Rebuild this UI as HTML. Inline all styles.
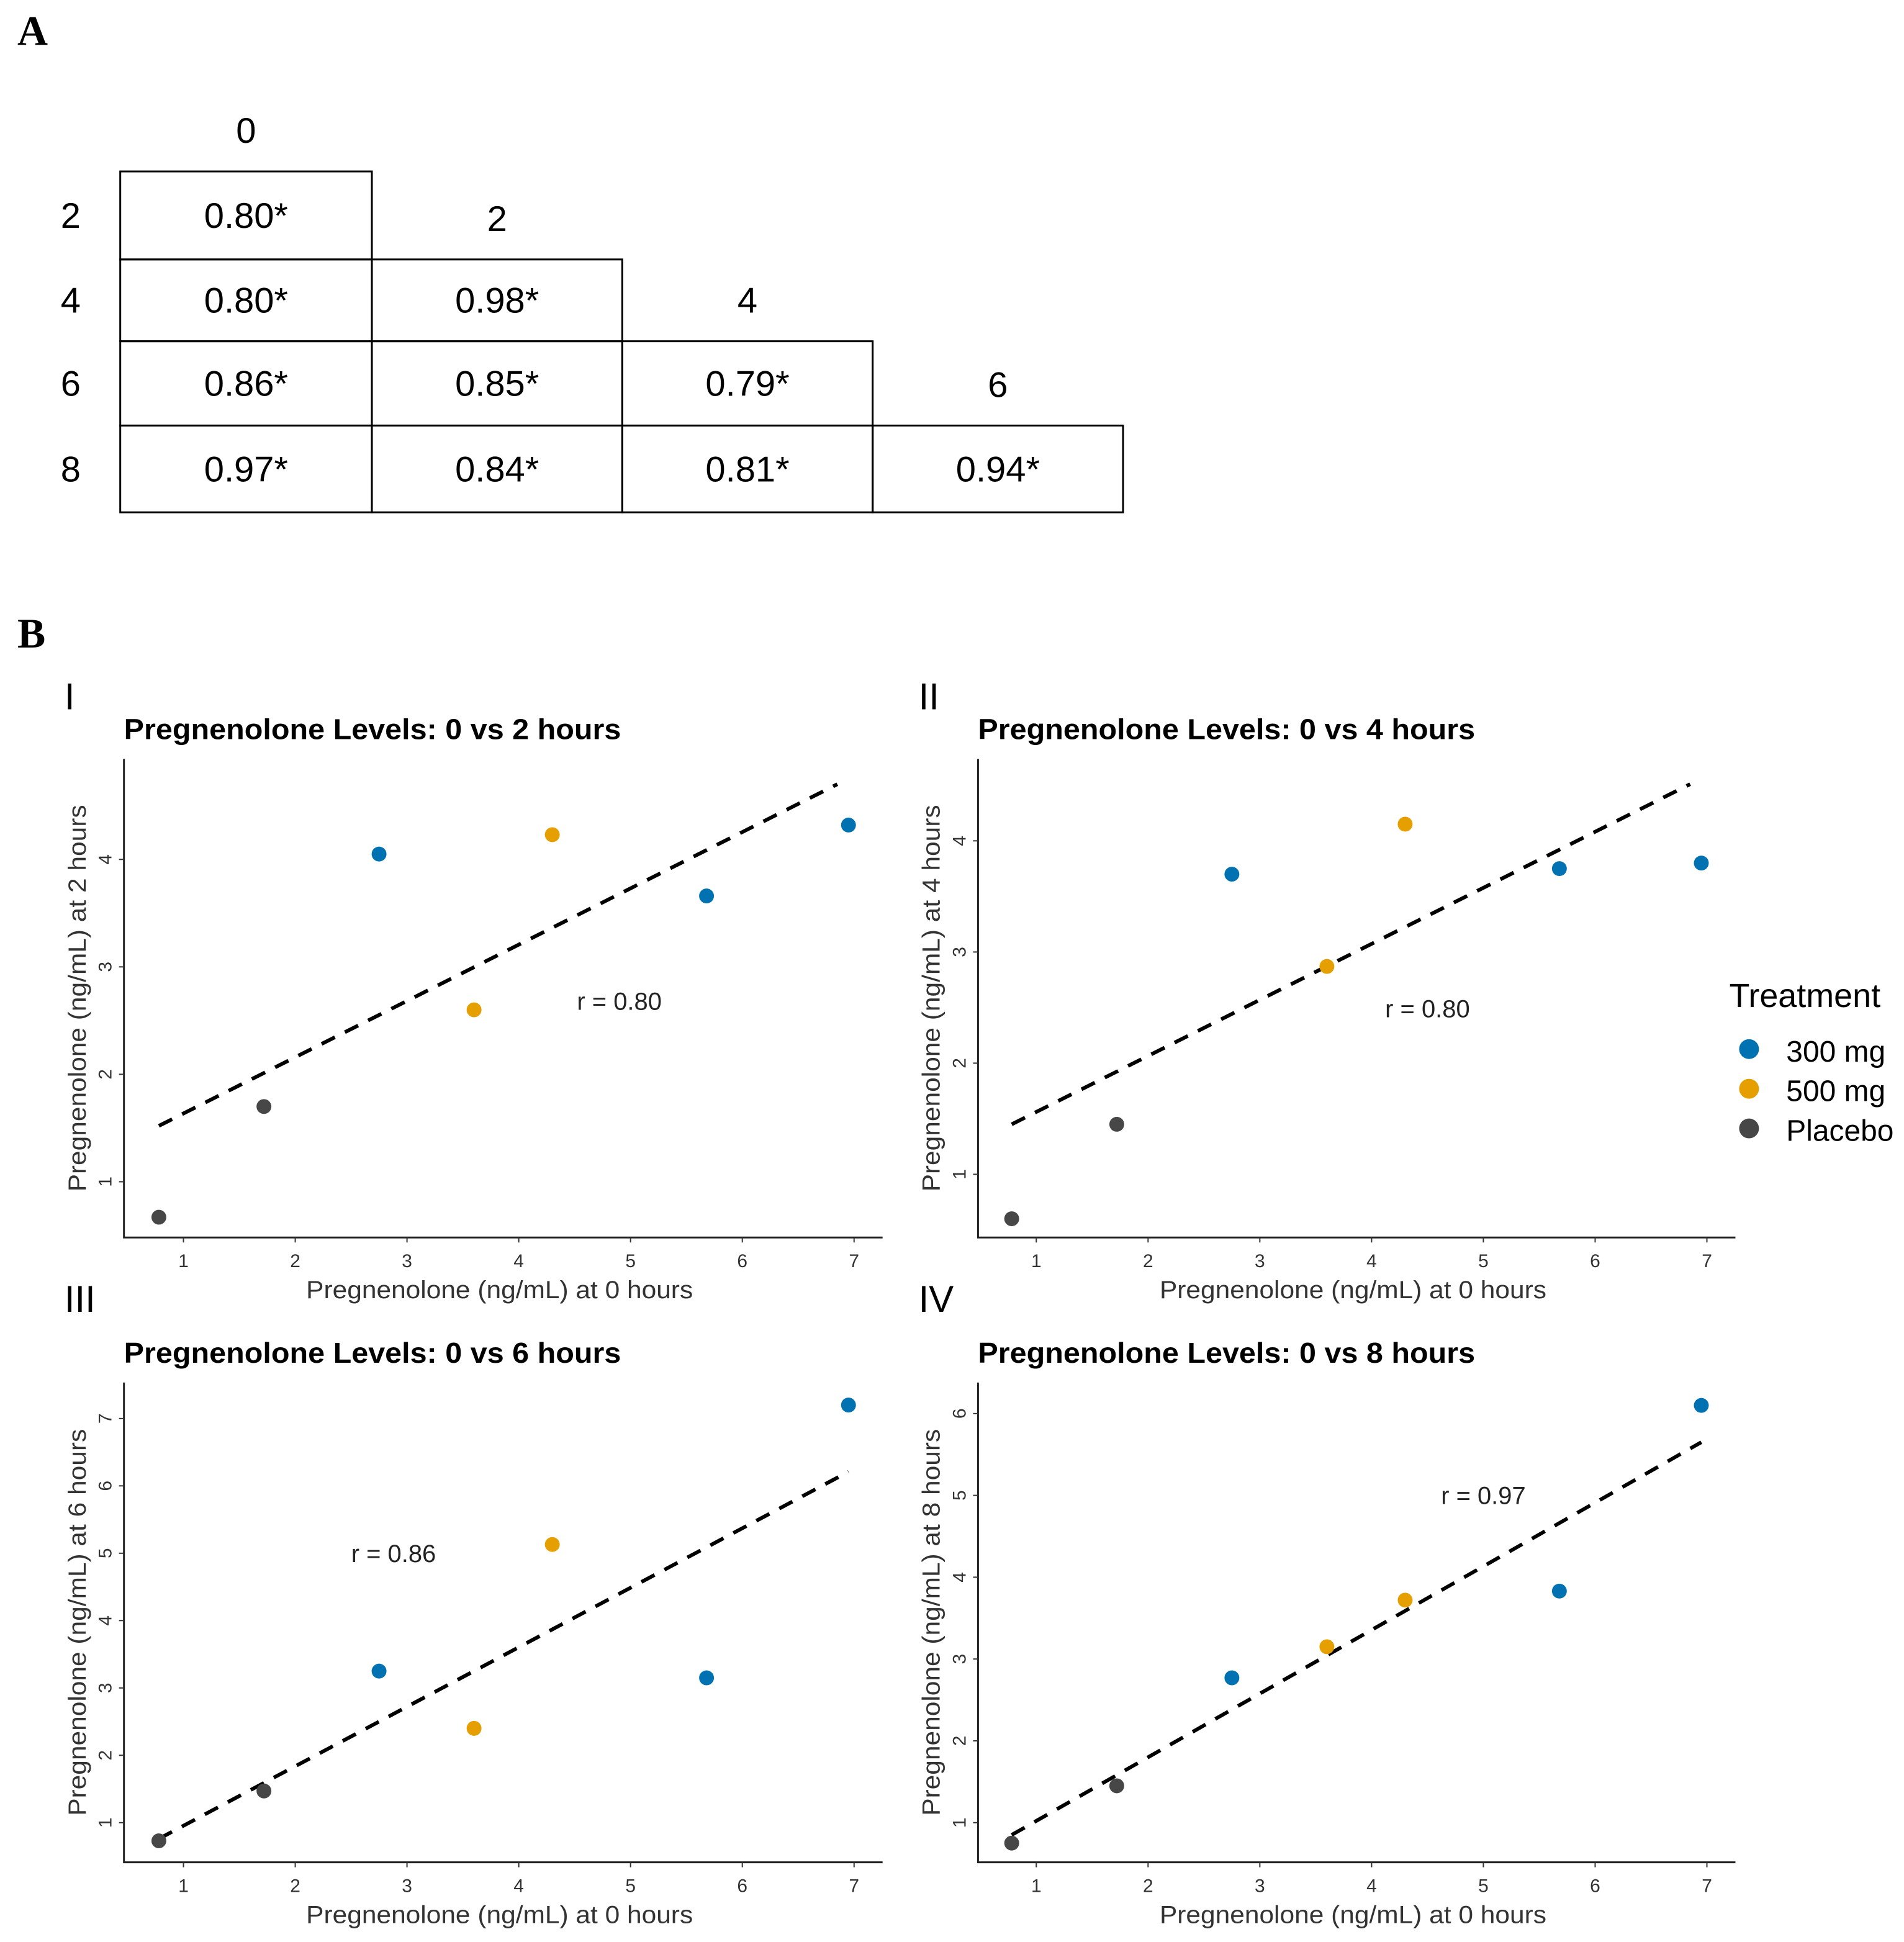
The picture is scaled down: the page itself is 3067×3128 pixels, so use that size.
<!DOCTYPE html>
<html><head><meta charset="utf-8"><style>
html,body{margin:0;padding:0;background:#fff;}
svg{display:block;}
text{font-family:"Liberation Sans",sans-serif;}
</style></head><body>
<svg id="fig" width="3067" height="3128" viewBox="0 0 1536 1566" xmlns="http://www.w3.org/2000/svg">
<rect width="1536" height="1566" fill="#fff"/>
<text x="14" y="36" font-weight="bold" font-size="34" style="font-family:'Liberation Serif',serif">A</text>
<text x="14" y="522" font-weight="bold" font-size="34" style="font-family:'Liberation Serif',serif">B</text>
<g id="table"></g>
<g id="plots"></g>
<g>
<text x="1395" y="812" font-size="27">Treatment</text>
<circle cx="1411" cy="846" r="8" fill="#0072B2"/>
<text x="1441" y="856" font-size="24">300 mg</text>
<circle cx="1411" cy="878" r="8" fill="#E69F00"/>
<text x="1441" y="888" font-size="24">500 mg</text>
<circle cx="1411" cy="910" r="8" fill="#474747"/>
<text x="1441" y="920" font-size="24">Placebo</text>
</g>
</svg>
<script>
const NS="http://www.w3.org/2000/svg";
// ---- table data ----
const tableHours=[0,2,4,6];
const rowHours=[2,4,6,8];
const corrValues=[["0.80*"],["0.80*","0.98*"],["0.86*","0.85*","0.79*"],["0.97*","0.84*","0.81*","0.94*"]];
// ---- scatter data ----
const xBaseline=[0.78,1.72,2.75,3.6,4.3,5.68,6.95];
const groups=["Placebo","Placebo","300 mg","500 mg","500 mg","300 mg","300 mg"];
const yAt2=[0.67,1.7,4.05,2.6,4.23,3.66,4.32];
const yAt4=[0.6,1.45,3.7,2.87,4.15,3.75,3.8];
const yAt6=[0.73,1.47,3.25,2.4,5.13,3.15,7.2];
const yAt8=[0.75,1.45,2.77,3.15,3.72,3.83,6.1];
const fitLines=[[0.78,1.52,6.85,4.7],[0.78,1.45,6.85,4.51],[0.78,0.76,6.95,6.21],[0.78,0.85,6.95,5.65]];
const rLabels=["r = 0.80","r = 0.80","r = 0.86","r = 0.97"];
const rPos=[[4.9,2.68],[4.5,2.49],[2.88,5.0],[5.0,5.0]];
const yTicks=[[1,2,3,4],[1,2,3,4],[1,2,3,4,5,6,7],[1,2,3,4,5,6]];
const xTicks=[1,2,3,4,5,6,7];
const colors={"300 mg":"#0072B2","500 mg":"#E69F00","Placebo":"#474747"};

function el(tag,attrs,parent,txt){const e=document.createElementNS(NS,tag);for(const k in attrs)e.setAttribute(k,attrs[k]);if(txt!==undefined)e.textContent=txt;parent.appendChild(e);return e;}

// table
const tb=document.getElementById('table');
const colX=[97,300,502,704,906];
const rowY=[138,209,275,343,413];
const tf="font-size:29px;font-family:'Liberation Sans',sans-serif";
tableHours.forEach((h,i)=>{
  const t=el('text',{x:(colX[i]+colX[i+1])/2,y:rowY[i]-23,'text-anchor':'middle',style:tf},tb,String(h));
  
  
});
rowHours.forEach((h,r)=>{
  const t=el('text',{x:57,y:(rowY[r]+rowY[r+1])/2+10,'text-anchor':'middle',style:tf},tb,String(h));
  
  
  corrValues[r].forEach((v,c)=>{
    const rc=el('rect',{x:colX[c],y:rowY[r],width:colX[c+1]-colX[c],height:rowY[r+1]-rowY[r],fill:'none',stroke:'#000','stroke-width':1.5},tb);
    
    
    const tv=el('text',{x:(colX[c]+colX[c+1])/2,y:(rowY[r]+rowY[r+1])/2+10,'text-anchor':'middle',style:tf},tb,v);
    
    
  });
});

// plots
const pg=document.getElementById('plots');
const panels=[
 {num:"I",hours:2,ys:yAt2,left:100,right:712,top:612,bottom:998,xpx:[148,689],ypx:[[1,953],[4,693]],ttlY:588,numY:572,xlabY:1047},
 {num:"II",hours:4,ys:yAt4,left:789,right:1400,top:612,bottom:998,xpx:[836,1377],ypx:[[1,947],[4,678]],ttlY:588,numY:572,xlabY:1047},
 {num:"III",hours:6,ys:yAt6,left:100,right:712,top:1115,bottom:1502,xpx:[148,689],ypx:[[1,1470],[7,1144]],ttlY:1091,numY:1058,xlabY:1551},
 {num:"IV",hours:8,ys:yAt8,left:789,right:1400,top:1115,bottom:1502,xpx:[836,1377],ypx:[[1,1470],[6,1140]],ttlY:1091,numY:1058,xlabY:1551}
];
panels.forEach((p,pi)=>{
  const g=el('g',{},pg);
  
  
  const sx=v=>p.xpx[0]+(v-1)*(p.xpx[1]-p.xpx[0])/6;
  const [a,b]=p.ypx;
  const sy=v=>a[1]+(v-a[0])*(b[1]-a[1])/(b[0]-a[0]);
  const n=el('text',{x:p.left-48,y:p.numY,'font-size':30},g,p.num);
  
  
  const t=el('text',{x:p.left,y:p.ttlY+8,'font-size':23,'font-weight':'bold',textLength:401,lengthAdjust:'spacingAndGlyphs'},g,'Pregnenolone Levels: 0 vs '+p.hours+' hours');
  
  
  const ax=el('path',{d:`M${p.left},${p.top}V${p.bottom}H${p.right}`,fill:'none',stroke:'#222','stroke-width':1.5},g);
  
  
  xTicks.forEach(v=>{
    const tk=el('line',{x1:sx(v),x2:sx(v),y1:p.bottom,y2:p.bottom+4,stroke:'#333'},g);
    
    
    const tl=el('text',{x:sx(v),y:p.bottom+24,'font-size':15,'text-anchor':'middle',fill:'#333'},g,String(v));
    
    
  });
  yTicks[pi].forEach(v=>{
    const tk=el('line',{x1:p.left-4,x2:p.left,y1:sy(v),y2:sy(v),stroke:'#333'},g);
    
    
    const tl=el('text',{x:0,y:0,'font-size':15,'text-anchor':'middle',fill:'#333',transform:`translate(${p.left-10},${sy(v)}) rotate(-90)`},g,String(v));
    
    
  });
  const xl=el('text',{x:(p.left+p.right)/2-3,y:p.xlabY,'font-size':20,'text-anchor':'middle',fill:'#333',textLength:312,lengthAdjust:'spacingAndGlyphs'},g,'Pregnenolone (ng/mL) at 0 hours');
  
  
  const yl=el('text',{x:0,y:0,'font-size':20,'text-anchor':'middle',fill:'#333',textLength:312,lengthAdjust:'spacingAndGlyphs',transform:`translate(${p.left-31},${(p.top+p.bottom)/2}) rotate(-90)`},g,'Pregnenolone (ng/mL) at '+p.hours+' hours');
  
  
  const f=fitLines[pi];
  const ln=el('line',{x1:sx(f[0]),y1:sy(f[1]),x2:sx(f[2]),y2:sy(f[3]),stroke:'#000','stroke-width':3,'stroke-dasharray':'12,9'},g);
  
  
  const rl=el('text',{x:sx(rPos[pi][0]),y:sy(rPos[pi][1])+7,'font-size':20,'text-anchor':'middle',fill:'#222'},g,rLabels[pi]);
  
  
  xBaseline.forEach((xv,i)=>{
    const c=el('circle',{cx:sx(xv),cy:sy(p.ys[i]),r:6,fill:colors[groups[i]]},g);
    
    
  });
});
</script>
</body></html>
